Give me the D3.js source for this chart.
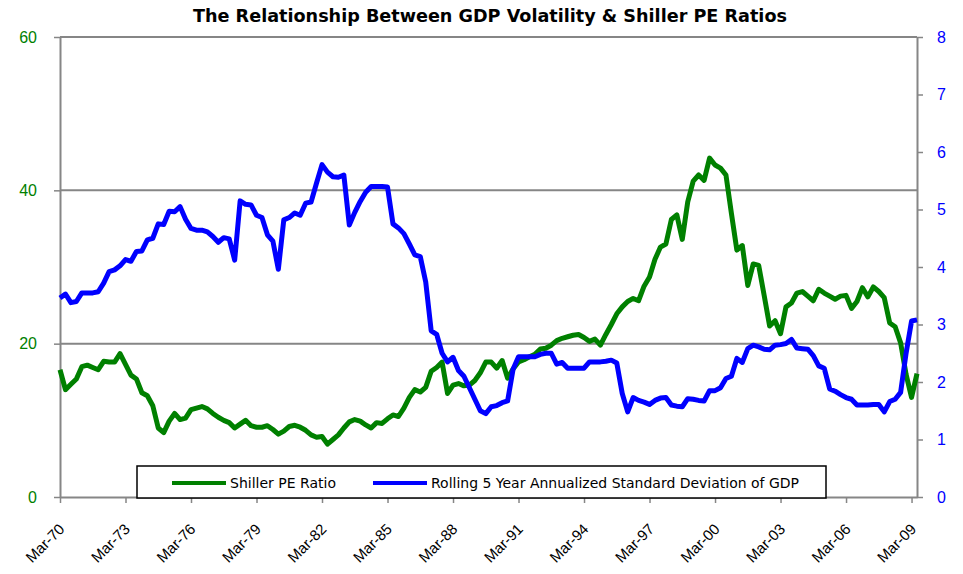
<!DOCTYPE html>
<html>
<head>
<meta charset="utf-8">
<script src="https://cdn.jsdelivr.net/npm/d3@7"></script>
<style>
body { margin: 0; background: #fff; }
</style>
</head>
<body>
<div id="chart"></div>
<script>
// quarterly series, Mar-70 .. Jun-09
var startQuarter = new Date(1970, 2, 1);
var quarterCount = 158;

var shillerPE = [
    16.6, 14.0, 14.7, 15.4, 17.0, 17.2, 16.9, 16.6, 17.7, 17.6,
    17.6, 18.7, 17.3, 15.9, 15.4, 13.6, 13.2, 11.9, 9.0, 8.4,
    9.9, 10.9, 10.1, 10.3, 11.4, 11.6, 11.8, 11.5, 10.9, 10.4,
    10.0, 9.7, 9.0, 9.5, 10.0, 9.3, 9.1, 9.1, 9.3, 8.8,
    8.2, 8.6, 9.2, 9.35, 9.1, 8.7, 8.1, 7.8, 7.9, 6.9,
    7.5, 8.1, 9.0, 9.8, 10.1, 9.9, 9.4, 9.0, 9.7, 9.6,
    10.2, 10.7, 10.5, 11.6, 13.0, 14.0, 13.7, 14.3, 16.4, 16.9,
    17.6, 13.5, 14.6, 14.8, 14.5, 14.6, 15.2, 16.2, 17.6, 17.6,
    16.8, 17.8, 15.5, 16.7, 17.6, 17.9, 18.3, 18.6, 19.3, 19.4,
    19.8, 20.4, 20.7, 20.9, 21.1, 21.2, 20.8, 20.3, 20.6, 19.8,
    21.2, 22.5, 23.9, 24.8, 25.5, 25.9, 25.6, 27.5, 28.7, 31.0,
    32.6, 33.0, 36.2, 36.8, 33.6, 38.5, 41.2, 42.0, 41.3, 44.2,
    43.3, 42.9, 42.0, 37.0, 32.2, 32.8, 27.6, 30.4, 30.2, 26.3,
    22.3, 23.0, 21.3, 24.8, 25.3, 26.6, 26.8, 26.2, 25.6, 27.1,
    26.6, 26.2, 25.8, 26.2, 26.3, 24.6, 25.5, 27.3, 26.1, 27.4,
    26.8, 26.0, 22.7, 22.2, 20.1, 16.0, 13.0, 16.1
];

var gdpVolatility = [
    3.46, 3.53, 3.38, 3.40, 3.55, 3.55, 3.55, 3.57, 3.72, 3.92,
    3.95, 4.02, 4.13, 4.10, 4.27, 4.28, 4.47, 4.50, 4.75, 4.74,
    4.97, 4.96, 5.05, 4.83, 4.67, 4.64, 4.64, 4.61, 4.53, 4.43,
    4.51, 4.49, 4.12, 5.15, 5.09, 5.08, 4.90, 4.86, 4.56, 4.45,
    3.96, 4.82, 4.86, 4.94, 4.90, 5.11, 5.13, 5.46, 5.78, 5.65,
    5.57, 5.56, 5.60, 4.73, 4.95, 5.14, 5.30, 5.40, 5.40, 5.40,
    5.39, 4.75, 4.68, 4.58, 4.40, 4.21, 4.18, 3.74, 2.89, 2.83,
    2.50, 2.35, 2.43, 2.20, 2.10, 1.90, 1.70, 1.50, 1.45, 1.57,
    1.59, 1.64, 1.67, 2.22, 2.44, 2.44, 2.44, 2.44, 2.48, 2.50,
    2.50, 2.31, 2.34, 2.24, 2.24, 2.24, 2.24, 2.35, 2.35, 2.35,
    2.36, 2.38, 2.33, 1.80, 1.48, 1.73, 1.68, 1.65, 1.61, 1.68,
    1.72, 1.73, 1.60, 1.58, 1.57, 1.71, 1.70, 1.68, 1.67, 1.85,
    1.85, 1.90, 2.06, 2.10, 2.41, 2.34, 2.58, 2.64, 2.61, 2.57,
    2.56, 2.64, 2.65, 2.67, 2.74, 2.59, 2.58, 2.57, 2.46, 2.28,
    2.24, 1.88, 1.84, 1.78, 1.73, 1.70, 1.60, 1.60, 1.60, 1.61,
    1.61, 1.48, 1.66, 1.70, 1.82, 2.50, 3.06, 3.08
];

var xTickLabels = ["Mar-70", "Mar-73", "Mar-76", "Mar-79", "Mar-82", "Mar-85", "Mar-88",
    "Mar-91", "Mar-94", "Mar-97", "Mar-00", "Mar-03", "Mar-06", "Mar-09"];
var leftTicks = [0, 20, 40, 60];
var rightTicks = [0, 1, 2, 3, 4, 5, 6, 7, 8];

var seriesNames = ["Shiller PE Ratio", "Rolling 5 Year Annualized Standard Deviation of GDP"];

(function() {
    var width = 963, height = 574;
    var margin = {top: 37, right: 46, bottom: 77, left: 60};
    var innerW = width - margin.left - margin.right;
    var innerH = height - margin.top - margin.bottom;

    var green = "#008000", blue = "#0000ff", grey = "#868686";
    var font = "'DejaVu Sans', Tahoma, sans-serif";

    var fmt = d3.timeFormat("%b-%y");
    var quarters = d3.range(quarterCount).map(function(i) {
        return fmt(d3.timeMonth.offset(startQuarter, i * 3));
    });

    var svg = d3.select("#chart").append("svg")
        .attr("width", width)
        .attr("height", height)
        .style("font-family", font);

    var g = svg.append("g")
        .attr("transform", "translate(" + margin.left + "," + margin.top + ")");

    var x = d3.scalePoint().domain(quarters).range([0, innerW]);
    var yL = d3.scaleLinear().domain([0, 60]).range([innerH, 0]);
    var yR = d3.scaleLinear().domain([0, 8]).range([innerH, 0]);

    // gridlines (incl. top border)
    g.selectAll(".grid").data([20, 40, 60]).enter().append("line")
        .attr("x1", 0).attr("x2", innerW)
        .attr("y1", d => yL(d)).attr("y2", d => yL(d))
        .attr("stroke", grey).attr("stroke-width", 2);

    // axes
    var xAxis = g.append("g")
        .attr("transform", "translate(0," + innerH + ")")
        .call(d3.axisBottom(x).tickValues(xTickLabels).tickSize(6).tickSizeOuter(0));
    xAxis.selectAll("text")
        .attr("x", 0).attr("y", 0).attr("dy", 0)
        .attr("transform", "translate(5,33) rotate(-45)")
        .style("text-anchor", "end")
        .style("font-size", "15px")
        .attr("fill", "#000");

    var leftAxis = g.append("g")
        .call(d3.axisLeft(yL).tickValues(leftTicks).tickSize(6).tickSizeOuter(0).tickPadding(17));
    leftAxis.selectAll("text").style("font-size", "16px").attr("fill", green);

    var rightAxis = g.append("g")
        .attr("transform", "translate(" + innerW + ",0)")
        .call(d3.axisRight(yR).tickValues(rightTicks).tickSize(6).tickSizeOuter(0).tickPadding(14));
    rightAxis.selectAll("text").style("font-size", "16px").attr("fill", blue);

    [xAxis, leftAxis, rightAxis].forEach(function(a) {
        a.select(".domain").attr("stroke", grey).attr("stroke-width", 2);
        a.selectAll(".tick line").attr("stroke", grey).attr("stroke-width", 1.5);
    });

    // series
    var peLine = d3.line()
        .x(function(d, i) { return x(quarters[i]); })
        .y(function(d) { return yL(d); });
    var volLine = d3.line()
        .x(function(d, i) { return x(quarters[i]); })
        .y(function(d) { return yR(d); });

    g.append("path").datum(shillerPE)
        .attr("d", peLine)
        .attr("fill", "none").attr("stroke", green)
        .attr("stroke-width", 5).attr("stroke-linejoin", "round");

    g.append("path").datum(gdpVolatility)
        .attr("d", volLine)
        .attr("fill", "none").attr("stroke", blue)
        .attr("stroke-width", 5).attr("stroke-linejoin", "round");

    // title
    svg.append("text")
        .attr("x", 490).attr("y", 22)
        .attr("text-anchor", "middle")
        .attr("textLength", 594).attr("lengthAdjust", "spacingAndGlyphs")
        .style("font-size", "18px").style("font-weight", "bold")
        .text("The Relationship Between GDP Volatility & Shiller PE Ratios");

    // legend
    var legend = svg.append("g");
    legend.append("rect")
        .attr("x", 137).attr("y", 466).attr("width", 689).attr("height", 32)
        .attr("fill", "#fff").attr("stroke", "#000").attr("stroke-width", 1.5);

    var items = [
        {name: seriesNames[0], color: green, x1: 172, x2: 226, len: 106},
        {name: seriesNames[1], color: blue, x1: 373, x2: 427, len: 368}
    ];
    items.forEach(function(it) {
        legend.append("line")
            .attr("x1", it.x1).attr("x2", it.x2)
            .attr("y1", 483).attr("y2", 483)
            .attr("stroke", it.color).attr("stroke-width", 4);
        legend.append("text")
            .attr("x", it.x2 + 4).attr("y", 488)
            .attr("textLength", it.len).attr("lengthAdjust", "spacingAndGlyphs")
            .style("font-size", "14px")
            .text(it.name);
    });
})();
</script>
</body>
</html>
